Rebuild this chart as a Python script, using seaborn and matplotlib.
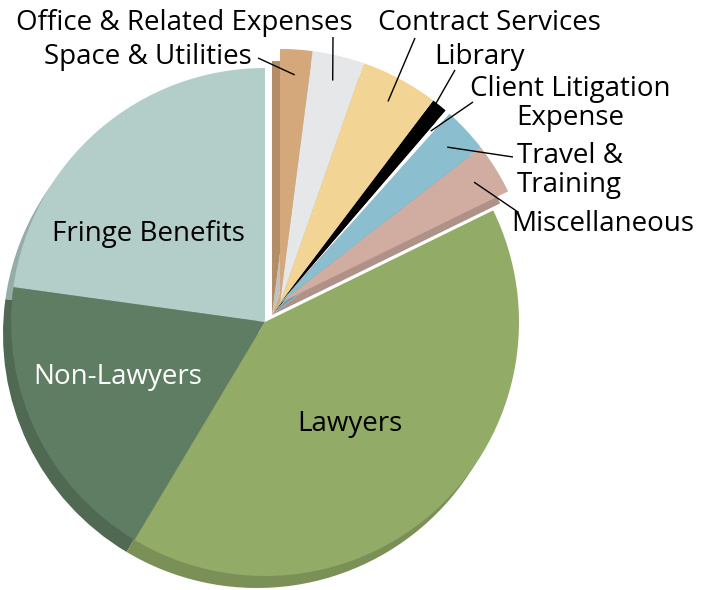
"""
Gráfico de pastel del presupuesto, con las partidas menores separadas
y una sombra de profundidad bajo las porciones.
"""
import matplotlib.colors as mcolors
import matplotlib.pyplot as plt
import numpy as np
import seaborn as sns

# ============================
# Datos
# ============================

categorias = [
    "Fringe Benefits",
    "Non-Lawyers",
    "Lawyers",
    "Miscellaneous",
    "Travel &\nTraining",
    "Client Litigation\nExpense",
    "Library",
    "Contract Services",
    "Office & Related Expenses",
    "Space & Utilities",
]
valores = [22.8, 18.6, 40.8, 3.25, 2.9, 0.3, 1.0, 4.95, 3.3, 2.05]
colores = [
    "#b3cdc8", "#5f7d62", "#92ab67", "#d1ada1", "#8bbfcf",
    "#ffffff", "#000000", "#f2d594", "#e6e7e8", "#d4a87a",
]
n_principales = 3  # las tres primeras quedan en el pastel; el resto se separa

# ============================
# Geometría (pixeles de la imagen -> datos)
# ============================

W_PX, H_PX = 715, 590
CX, CY, R_PX = 265, 322, 254
EXPLODE_PX = (15, -19)   # desplazamiento del grupo de partidas menores
SOMBRA_PX = (-8, 12)     # desplazamiento de la sombra


def px(x, y):
    """Convierte coordenadas de pixel (origen arriba-izq) a datos."""
    return ((x - CX) / R_PX, (CY - y) / R_PX)


def oscurecer(color, factor=0.84):
    if color == "#ffffff":
        return color
    return tuple(v * factor for v in mcolors.to_rgb(color))


sns.set_theme(style="white")
plt.rcParams["font.family"] = ["Open Sans", "DejaVu Sans"]

fig = plt.figure(figsize=(W_PX / 100, H_PX / 100), dpi=100)
ax = fig.add_axes([0, 0, 1, 1])

sep = (EXPLODE_PX[0] / R_PX, -EXPLODE_PX[1] / R_PX)
sombra = (SOMBRA_PX[0] / R_PX, -SOMBRA_PX[1] / R_PX)

# Sombra
w_sombra, _ = ax.pie(
    valores,
    colors=[oscurecer(c) for c in colores],
    startangle=90,
    counterclock=True,
    radius=1,
    wedgeprops=dict(linewidth=0),
)
for i, w in enumerate(w_sombra):
    if i < n_principales:
        w.set_center(sombra)
    else:
        w.set_center((sep[0] + sombra[0], sep[1] + sombra[1]))
    w.set_zorder(1)

# Porciones
wedges, _ = ax.pie(
    valores,
    colors=colores,
    startangle=90,
    counterclock=True,
    radius=1,
    wedgeprops=dict(linewidth=0),
)
for i, w in enumerate(wedges):
    if i >= n_principales:
        w.set_center(sep)
    w.set_zorder(2)

# pie() fija sus propios límites: se reemplazan después
ax.set_xlim(px(0, 0)[0], px(W_PX, 0)[0])
ax.set_ylim(px(0, H_PX)[1], px(0, 0)[1])
ax.set_aspect("equal")
ax.axis("off")

# ============================
# Etiquetas
# ============================

fs = 20

# Internas: (x, y base) en pixeles y color
internas = {
    0: ((148, 241), "black"),
    1: ((118, 384), "white"),
    2: ((350, 431), "black"),
}
for i, ((x, y), c) in internas.items():
    ax.text(*px(x, y), categorias[i], ha="center", va="baseline",
            fontsize=fs, color=c, zorder=5)

# Externas: posición del texto (pixel, base de la última línea),
# alineación, extremo de la guía
externas = {
    3: ((511, 231), "left", (518, 212)),
    4: ((517, 192), "left", (513, 157)),
    5: ((570, 125), "center", (473, 102)),
    6: ((434, 64), "left", (455, 70)),
    7: ((378, 30), "left", (415, 38)),
    8: ((184, 30), "center", (333, 37)),
    9: ((148, 64), "center", (258, 58)),
}
for i, ((x, y), ha, extremo) in externas.items():
    ax.text(*px(x, y), categorias[i], ha=ha, va="baseline", fontsize=fs,
            color="black", linespacing=1.03, zorder=5,
            multialignment="center" if ha == "center" else "left")
    w = wedges[i]
    ang = np.deg2rad((w.theta1 + w.theta2) / 2)
    cx, cy = w.center
    ancla = (cx + 0.9 * np.cos(ang), cy + 0.9 * np.sin(ang))
    ax.plot([ancla[0], px(*extremo)[0]], [ancla[1], px(*extremo)[1]],
            color="black", lw=1.0, zorder=4, solid_capstyle="butt")

fig.savefig("out.png", dpi=100)
